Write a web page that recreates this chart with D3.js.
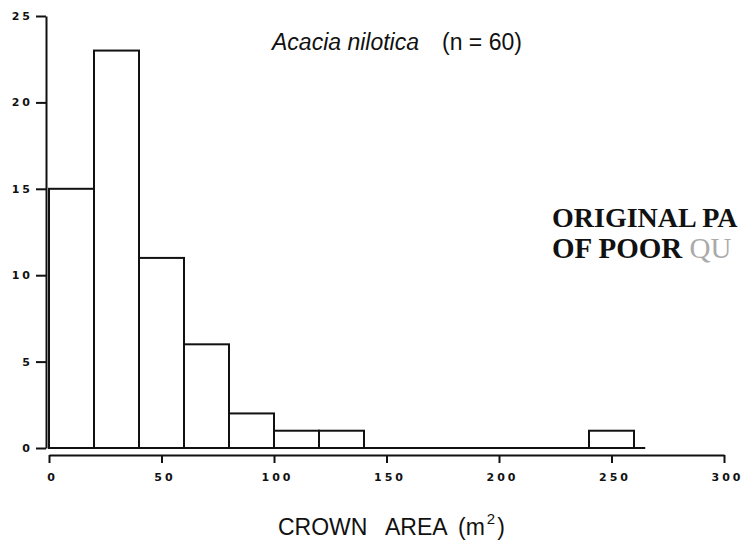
<!DOCTYPE html>
<html>
<head>
<meta charset="utf-8">
<script src="https://cdn.jsdelivr.net/npm/d3@7"></script>
<style>
    body { margin: 0; background: #fff; }
    svg { display: block; }
    .axis text { font-family: "DejaVu Sans", sans-serif; font-weight: bold; font-size: 11px; letter-spacing: 3px; fill: #111; }
    .axis path, .axis line { stroke: #111; stroke-width: 2; }
    .lbl { font-family: "Liberation Sans", Arial, sans-serif; fill: #111; }
    .stamp { font-family: "Liberation Serif", "Times New Roman", serif; font-size: 29px; fill: #111; }
</style>
</head>
<body>
<div id="chart"></div>
<script>
// histogram bins (lower edge, m2) and tree counts
const binStart = [0, 20, 40, 60, 80, 100, 120, 240];
const counts = [15, 23, 11, 6, 2, 1, 1, 1];
const binWidth = 20;
const xTicks = [0, 50, 100, 150, 200, 250, 300];
const yTicks = [0, 5, 10, 15, 20, 25];

const W = 743, H = 544;

const x = d3.scaleLinear().domain([0, 300]).range([49, 724]);
const y = d3.scaleLinear().domain([0, 25]).range([448, 16]);

const svg = d3.select('#chart')
    .append('svg')
    .attr('width', W)
    .attr('height', H);

const bins = binStart.map((b, i) => ({ x0: b, x1: b + binWidth, n: counts[i] }));

svg.append('g').selectAll('rect')
    .data(bins)
    .enter().append('rect')
    .attr('x', d => x(d.x0))
    .attr('y', d => y(d.n))
    .attr('width', d => x(d.x1) - x(d.x0))
    .attr('height', d => y(0) - y(d.n))
    .attr('fill', '#fff')
    .attr('stroke', '#111')
    .attr('stroke-width', 2);

// baseline under the bars
svg.append('line')
    .attr('x1', x(0))
    .attr('x2', x(265))
    .attr('y1', y(0))
    .attr('y2', y(0))
    .attr('stroke', '#111')
    .attr('stroke-width', 2);

const xAxis = d3.axisBottom(x)
    .tickValues(xTicks)
    .tickSize(8)
    .tickSizeOuter(0)
    .tickPadding(10);
const yAxis = d3.axisLeft(y)
    .tickValues(yTicks)
    .tickSize(10)
    .tickSizeOuter(0)
    .tickPadding(3);

svg.append('g')
    .attr('class', 'axis axis--x')
    .attr('transform', 'translate(0,455)')
    .call(xAxis)
    .selectAll('text')
    .attr('dx', '3px');

svg.append('g')
    .attr('class', 'axis axis--y')
    .attr('transform', 'translate(46,0)')
    .call(yAxis);

// title
svg.append('text')
    .attr('class', 'lbl')
    .attr('x', 272)
    .attr('y', 50)
    .style('font-style', 'italic')
    .style('font-size', '23px')
    .text('Acacia nilotica');
svg.append('text')
    .attr('class', 'lbl')
    .attr('x', 442)
    .attr('y', 50)
    .style('font-size', '23px')
    .text('(n = 60)');

// x axis title
const xt = svg.append('text')
    .attr('class', 'lbl')
    .attr('y', 535)
    .style('font-size', '23px');
xt.append('tspan').attr('x', 278).text('CROWN');
xt.append('tspan').attr('x', 385).text('AREA');
xt.append('tspan').attr('x', 458).text('(m');
xt.append('tspan').attr('dx', 2).attr('dy', -11).style('font-size', '15px').text('2');
xt.append('tspan').attr('dx', 2).attr('dy', 11).text(')');

// scan stamp, cut at the page edge
svg.append('text')
    .attr('class', 'stamp')
    .attr('x', 552)
    .attr('y', 227)
    .style('font-size', '28px')
    .style('font-weight', 'bold')
    .text('ORIGINAL PA');
const st = svg.append('text')
    .attr('class', 'stamp')
    .attr('x', 552)
    .attr('y', 258);
st.append('tspan').style('font-weight', 'bold').text('OF POOR ');
st.append('tspan').style('fill', '#aaa').text('QU');
</script>
</body>
</html>
